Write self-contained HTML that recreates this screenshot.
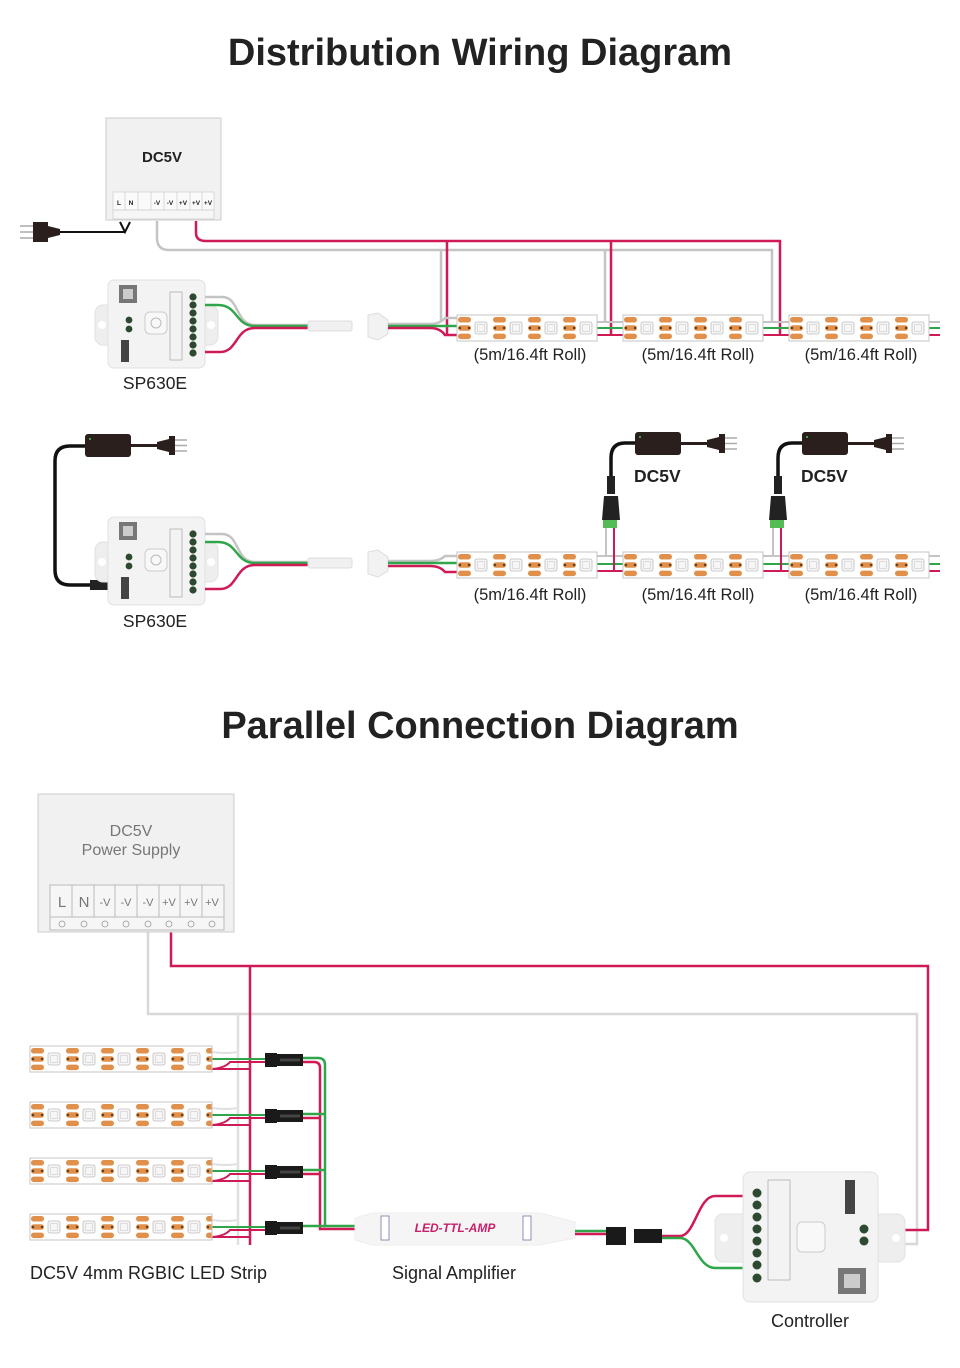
<!DOCTYPE html>
<html><head><meta charset="utf-8"><style>
html,body{margin:0;padding:0;background:#fff;}
svg{display:block;}
text{font-family:"Liberation Sans",sans-serif;}
</style></head><body>
<svg width="960" height="1368" viewBox="0 0 960 1368" xmlns="http://www.w3.org/2000/svg">
<defs>
<pattern id="st" width="35" height="26" patternUnits="userSpaceOnUse">
<rect width="35" height="26" fill="#fff"/>
<rect x="1" y="2" width="13" height="5.5" rx="2.7" fill="#e0904a"/>
<rect x="1" y="10.3" width="13" height="5.5" rx="2.7" fill="#e0904a"/>
<rect x="1" y="18.6" width="13" height="5.5" rx="2.7" fill="#e0904a"/>
<circle cx="3" cy="13" r="1.2" fill="#5a3a20"/><circle cx="12" cy="13" r="1.2" fill="#5a3a20"/>
<rect x="18" y="7" width="12" height="12" rx="2" fill="#f6f6f6" stroke="#bbb" stroke-width="0.8"/>
<rect x="20.5" y="9.5" width="7" height="7" fill="none" stroke="#ccc" stroke-width="0.6"/>
</pattern>
<g id="strip"><rect x="0" y="0" width="140" height="26" fill="url(#st)" stroke="#c4c4c4" stroke-width="1"/></g>
<g id="pstrip"><rect x="0" y="0" width="182" height="26" fill="url(#st)" stroke="#c4c4c4" stroke-width="1"/></g>
<g id="ctrl">
<rect x="0" y="25" width="123" height="40" rx="8" fill="#eeeeee" stroke="#e2e2e2"/>
<circle cx="7" cy="45" r="4" fill="#fff"/><circle cx="116" cy="45" r="4" fill="#fff"/>
<rect x="13" y="0" width="97" height="88" rx="6" fill="#f3f3f3" stroke="#e0e0e0"/>
<rect x="24" y="5" width="18" height="18" fill="#777"/><rect x="28" y="9" width="10" height="10" fill="#ccc"/>
<rect x="50" y="32" width="22" height="22" rx="5" fill="#f8f8f8" stroke="#ccc"/>
<circle cx="61" cy="43" r="5" fill="none" stroke="#bbb"/>
<rect x="26" y="60" width="8" height="22" fill="#444"/>
<rect x="75" y="12" width="12" height="68" fill="none" stroke="#999" stroke-width="0.6"/>
<g fill="#2d4a30"><circle cx="98" cy="17" r="3.6"/><circle cx="98" cy="25" r="3.6"/><circle cx="98" cy="33" r="3.6"/><circle cx="98" cy="41" r="3.6"/><circle cx="98" cy="49" r="3.6"/><circle cx="98" cy="57" r="3.6"/><circle cx="98" cy="65" r="3.6"/><circle cx="98" cy="73" r="3.6"/>
<circle cx="34" cy="40" r="3.4"/><circle cx="34" cy="49" r="3.4"/></g>
</g>
<g id="adapter">
<rect x="0" y="0" width="46" height="23" rx="3" fill="#2a1f1c"/>
<circle cx="5" cy="5" r="1" fill="#4c4"/>
<path d="M46 11.5 H75" stroke="#2a1f1c" stroke-width="3"/>
<path d="M72 8 L84 5 L84 18 L72 15 Z" fill="#2a1f1c"/>
<rect x="84" y="2" width="6" height="19" fill="#2a1f1c"/>
<path d="M90 6 H102 M90 11.5 H102 M90 17 H102" stroke="#aaa" stroke-width="1.5"/>
</g>
<g id="jsm">
<rect x="0" y="-7" width="12" height="14" fill="#1a1a1a"/>
<rect x="12" y="-6" width="26" height="12" fill="#1a1a1a"/>
<rect x="15" y="-1.5" width="20" height="3" fill="#444"/>
</g>
</defs>

<text x="480" y="65" text-anchor="middle" font-size="38" font-weight="bold" fill="#222">Distribution Wiring Diagram</text>
<text x="480" y="738" text-anchor="middle" font-size="38" font-weight="bold" fill="#222">Parallel Connection Diagram</text>

<path d="M157 221 V238 Q157 250 169 250 H772 V322" fill="none" stroke="#c4c4c4" stroke-width="2.5"/>
<path d="M441 250 V322 M605 250 V322" fill="none" stroke="#c4c4c4" stroke-width="2.5"/>
<path d="M196 221 V233 Q196 241 206 241 H780 V335" fill="none" stroke="#d01a56" stroke-width="2.5"/>
<path d="M447 241 V335 M611 241 V335" fill="none" stroke="#d01a56" stroke-width="2.5"/>
<rect x="106" y="118" width="115" height="102" fill="#f1f1f1" stroke="#ccc"/>
<text x="162" y="162" text-anchor="middle" font-size="15" font-weight="bold" fill="#222">DC5V</text>
<rect x="113" y="192" width="101" height="18" fill="#fafafa" stroke="#ccc" stroke-width="0.7"/>
<rect x="113" y="210" width="101" height="9" fill="#f6f6f6" stroke="#ccc" stroke-width="0.7"/>
<g font-size="6.5" font-weight="bold" fill="#222" text-anchor="middle">
<text x="119" y="205">L</text><text x="131" y="205">N</text><text x="157" y="205">-V</text><text x="170" y="205">-V</text><text x="183" y="205">+V</text><text x="196" y="205">+V</text><text x="208" y="205">+V</text></g>
<path d="M125 192 V210 M138 192 V210 M151 192 V210 M164 192 V210 M177 192 V210 M190 192 V210 M202 192 V210" stroke="#ccc" stroke-width="0.7"/>
<path d="M120 222 L125 232 L130 222 M125 232 H60" fill="none" stroke="#111" stroke-width="2"/>
<path d="M60 229 L48 226 L48 238 L60 235 Z" fill="#2a1f1c"/><rect x="33" y="222" width="15" height="20" fill="#2a1f1c"/>
<path d="M20 226 H33 M20 232 H33 M20 238 H33" stroke="#aaa" stroke-width="1.5"/>
<use href="#ctrl" x="95" y="280"/>
<path d="M205 297 H222 C240 297 235 325 255 325 H312" fill="none" stroke="#c4c4c4" stroke-width="2.5"/>
<path d="M205 305 H218 C238 305 235 326 255 326 H312" fill="none" stroke="#2fa64a" stroke-width="2.5"/>
<path d="M205 352 H220 C238 352 235 328 255 328 H312" fill="none" stroke="#d01a56" stroke-width="2.5"/>
<rect x="308" y="321" width="44" height="10" rx="2" fill="#f0f0f0" stroke="#ddd"/>
<path d="M368 315 L378 313 L388 320 V334 L378 340 L368 337 Z" fill="#f2f2f2" stroke="#ddd"/>
<path d="M388 324 H430 Q440 324 445 318 H457" fill="none" stroke="#c4c4c4" stroke-width="2.5"/>
<path d="M388 326 H457" fill="none" stroke="#2fa64a" stroke-width="2.5"/>
<path d="M388 328 H430 Q440 328 445 335 H457" fill="none" stroke="#d01a56" stroke-width="2.5"/>
<path d="M597 322 H623 M763 322 H789 M929 322 H940" stroke="#c4c4c4" stroke-width="2"/>
<path d="M597 328 H623 M763 328 H789 M929 328 H940" stroke="#2fa64a" stroke-width="2"/>
<path d="M597 335 H623 M763 335 H789 M929 335 H940" stroke="#d01a56" stroke-width="2"/>
<use href="#strip" transform="translate(457,315)"/>
<use href="#strip" transform="translate(623,315)"/>
<use href="#strip" transform="translate(789,315)"/>
<g font-size="16.5" fill="#222" text-anchor="middle">
<text x="530" y="360">(5m/16.4ft Roll)</text><text x="698" y="360">(5m/16.4ft Roll)</text><text x="861" y="360">(5m/16.4ft Roll)</text>
<text x="155" y="389" font-size="17.5">SP630E</text>
</g>

<use href="#adapter" x="85" y="434"/>
<path d="M85 446 H70 Q55 446 55 461 V570 Q55 585 70 585 H95" fill="none" stroke="#111" stroke-width="3.5"/>
<rect x="90" y="580" width="18" height="10" fill="#222"/>
<use href="#ctrl" x="95" y="517"/>
<path d="M205 534 H222 C240 534 235 562 255 562 H312" fill="none" stroke="#c4c4c4" stroke-width="2.5"/>
<path d="M205 542 H218 C238 542 235 563 255 563 H312" fill="none" stroke="#2fa64a" stroke-width="2.5"/>
<path d="M205 589 H220 C238 589 235 565 255 565 H312" fill="none" stroke="#d01a56" stroke-width="2.5"/>
<rect x="308" y="558" width="44" height="10" rx="2" fill="#f0f0f0" stroke="#ddd"/>
<path d="M368 552 L378 550 L388 557 V571 L378 577 L368 574 Z" fill="#f2f2f2" stroke="#ddd"/>
<path d="M388 561 H430 Q440 561 445 556 H457" fill="none" stroke="#c4c4c4" stroke-width="2.5"/>
<path d="M388 563 H457" fill="none" stroke="#2fa64a" stroke-width="2.5"/>
<path d="M388 566 H430 Q440 566 445 572 H457" fill="none" stroke="#d01a56" stroke-width="2.5"/>
<path d="M597 556 H623 M763 556 H789 M929 556 H940" stroke="#c4c4c4" stroke-width="2"/>
<path d="M597 564 H623 M763 564 H789 M929 564 H940" stroke="#2fa64a" stroke-width="2"/>
<path d="M597 571 H623 M763 571 H789 M929 571 H940" stroke="#d01a56" stroke-width="2"/>
<g>
<path d="M606 528 V556" stroke="#c4c4c4" stroke-width="2"/><path d="M614 528 V571" stroke="#d01a56" stroke-width="2"/>
<use href="#adapter" x="635" y="432"/>
<path d="M635 443 H625 Q611 443 611 458 V478" fill="none" stroke="#111" stroke-width="3.5"/>
<rect x="607" y="476" width="8" height="18" fill="#222"/>
<path d="M604 496 H618 L620 520 H602 Z" fill="#222"/>
<rect x="603" y="520" width="14" height="8" fill="#5b5"/>
<path d="M773 528 V556" stroke="#c4c4c4" stroke-width="2"/><path d="M781 528 V571" stroke="#d01a56" stroke-width="2"/>
<use href="#adapter" x="802" y="432"/>
<path d="M802 443 H792 Q778 443 778 458 V478" fill="none" stroke="#111" stroke-width="3.5"/>
<rect x="774" y="476" width="8" height="18" fill="#222"/>
<path d="M771 496 H785 L787 520 H769 Z" fill="#222"/>
<rect x="770" y="520" width="14" height="8" fill="#5b5"/>
</g>
<use href="#strip" transform="translate(457,552)"/>
<use href="#strip" transform="translate(623,552)"/>
<use href="#strip" transform="translate(789,552)"/>
<g font-size="16.5" fill="#222" text-anchor="middle">
<text x="530" y="600">(5m/16.4ft Roll)</text><text x="698" y="600">(5m/16.4ft Roll)</text><text x="861" y="600">(5m/16.4ft Roll)</text>
<text x="155" y="627" font-size="17.5">SP630E</text>
</g>
<g font-size="17.5" font-weight="bold" fill="#222"><text x="634" y="482">DC5V</text><text x="801" y="482">DC5V</text></g>

<path d="M148 932 V1014 H917 V1244 H878" fill="none" stroke="#d8d8d8" stroke-width="2.5"/>
<path d="M238 1014 V1245" stroke="#e0e0e0" stroke-width="2.5"/>
<path d="M171 932 V966 H928 V1230 H878" fill="none" stroke="#d01a56" stroke-width="2.5"/>
<path d="M250 966 V1245" stroke="#d01a56" stroke-width="2.5"/>
<rect x="38" y="794" width="196" height="138" fill="#f1f1f1" stroke="#ccc"/>
<text x="131" y="836" text-anchor="middle" font-size="16" fill="#777">DC5V</text>
<text x="131" y="855" text-anchor="middle" font-size="16" fill="#777">Power Supply</text>
<rect x="50" y="885" width="174" height="32" fill="#f6f6f6" stroke="#bbb"/>
<rect x="50" y="917" width="174" height="13" fill="#f6f6f6" stroke="#bbb"/>
<path d="M72 885 V917 M94 885 V917 M115 885 V917 M137 885 V917 M159 885 V917 M180 885 V917 M202 885 V917" stroke="#bbb"/>
<g fill="#777" text-anchor="middle"><text x="62" y="907" font-size="15">L</text><text x="84" y="907" font-size="15">N</text>
<g font-size="11"><text x="105" y="906">-V</text><text x="126" y="906">-V</text><text x="148" y="906">-V</text><text x="169" y="906">+V</text><text x="191" y="906">+V</text><text x="212" y="906">+V</text></g></g>
<g fill="none" stroke="#999" stroke-width="0.8"><circle cx="62" cy="924" r="3"/><circle cx="84" cy="924" r="3"/><circle cx="105" cy="924" r="3"/><circle cx="126" cy="924" r="3"/><circle cx="148" cy="924" r="3"/><circle cx="169" cy="924" r="3"/><circle cx="191" cy="924" r="3"/><circle cx="212" cy="924" r="3"/></g>

<g id="pr">
<path d="M212 1052 Q225 1054 238 1052" fill="none" stroke="#e0e0e0" stroke-width="2"/>
<path d="M212 1059 H270" stroke="#2fa64a" stroke-width="2"/>
<path d="M212 1069 Q225 1068 230 1062 H270" fill="none" stroke="#d01a56" stroke-width="2"/>
<path d="M212 1069 H250" stroke="#d01a56" stroke-width="2"/>
</g>
<use href="#pr" y="56"/><use href="#pr" y="112"/><use href="#pr" y="168"/>
<use href="#pstrip" transform="translate(30,1046)"/>
<use href="#pstrip" transform="translate(30,1102)"/>
<use href="#pstrip" transform="translate(30,1158)"/>
<use href="#pstrip" transform="translate(30,1214)"/>
<g fill="none" stroke-width="2.5">
<path d="M300 1058 H318 Q325 1058 325 1065 V1226 H360" stroke="#2fa64a"/>
<path d="M300 1062 H314 Q320 1062 320 1068 V1229 H360" stroke="#d01a56"/>
<path d="M300 1114 H325 M300 1170 H325" stroke="#2fa64a"/>
<path d="M300 1118 H320 M300 1174 H320" stroke="#d01a56"/>
<path d="M300 1226 H325" stroke="#2fa64a"/>
</g>
<use href="#jsm" x="265" y="1060"/><use href="#jsm" x="265" y="1116"/><use href="#jsm" x="265" y="1172"/><use href="#jsm" x="265" y="1228"/>

<path d="M355 1218 L372 1213 H540 L575 1222 V1238 L540 1245 H372 L355 1240 Z" fill="#f5f5f5" stroke="#eee"/>
<rect x="381" y="1216" width="8" height="24" fill="#fff" stroke="#77a" stroke-width="0.8"/>
<rect x="523" y="1216" width="8" height="24" fill="#fff" stroke="#77a" stroke-width="0.8"/>
<text x="455" y="1232" text-anchor="middle" font-size="12" font-weight="bold" font-style="italic" font-family="Liberation Serif,serif" fill="#c8206a">LED-TTL-AMP</text>
<path d="M575 1231 H608" stroke="#2fa64a" stroke-width="2.5"/><path d="M575 1234 H608" stroke="#d01a56" stroke-width="2.5"/>
<rect x="606" y="1227" width="20" height="18" fill="#1a1a1a"/>
<rect x="634" y="1229" width="28" height="14" fill="#1a1a1a"/>
<path d="M662 1236 H680 C695 1236 698 1196 715 1196 H745" fill="none" stroke="#d01a56" stroke-width="2.5"/>
<path d="M662 1238 H680 C695 1238 698 1268 715 1268 H745" fill="none" stroke="#2fa64a" stroke-width="2.5"/>
<rect x="715" y="1214" width="190" height="48" rx="8" fill="#eee" stroke="#e2e2e2"/>
<circle cx="724" cy="1238" r="4" fill="#fff"/><circle cx="896" cy="1238" r="4" fill="#fff"/>
<rect x="743" y="1172" width="135" height="130" rx="7" fill="#f3f3f3" stroke="#e0e0e0"/>
<rect x="797" y="1222" width="28" height="30" rx="5" fill="#f8f8f8" stroke="#ccc"/>
<rect x="838" y="1268" width="28" height="26" fill="#777"/><rect x="844" y="1274" width="16" height="14" fill="#ccc"/>
<rect x="768" y="1180" width="22" height="100" fill="none" stroke="#999" stroke-width="0.6"/>
<rect x="845" y="1180" width="10" height="34" fill="#444"/>
<g fill="#2d4a30"><circle cx="757" cy="1193" r="4.5"/><circle cx="757" cy="1205" r="4.5"/><circle cx="757" cy="1217" r="4.5"/><circle cx="757" cy="1229" r="4.5"/><circle cx="757" cy="1241" r="4.5"/><circle cx="757" cy="1253" r="4.5"/><circle cx="757" cy="1265" r="4.5"/><circle cx="757" cy="1278" r="4.5"/>
<circle cx="864" cy="1229" r="4.5"/><circle cx="864" cy="1241" r="4.5"/></g>

<g font-size="18" fill="#222">
<text x="30" y="1279">DC5V 4mm RGBIC LED Strip</text>
<text x="454" y="1279" text-anchor="middle">Signal Amplifier</text>
<text x="810" y="1327" text-anchor="middle">Controller</text>
</g>
</svg>
</body></html>
